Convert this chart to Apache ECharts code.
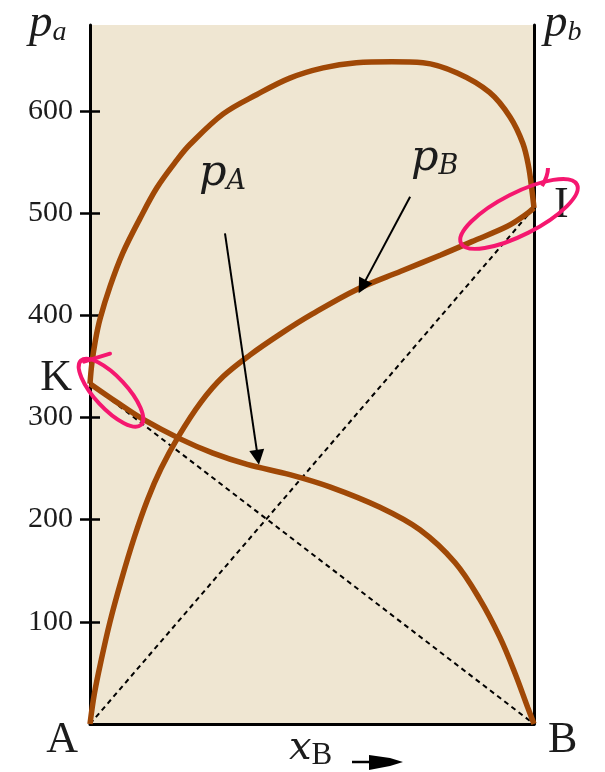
<!DOCTYPE html>
<html>
<head>
<meta charset="utf-8">
<script src="https://cdn.jsdelivr.net/npm/echarts@6/dist/echarts.min.js"></script>
<style>
  html, body { margin: 0; padding: 0; background: #fff; }
  #chart { width: 605px; height: 772px; }
</style>
</head>
<body>
<div id="chart"></div>
<script>
// Vapour pressures of a binary mixture A–B against mole fraction x_B
const yTicks = [100, 200, 300, 400, 500, 600];
const pureA = 333;   // K : vapour pressure of pure A
const pureB = 505;   // I : vapour pressure of pure B

const xTotal = [0, 0.004, 0.012, 0.023, 0.045, 0.074, 0.113, 0.151, 0.196, 0.225, 0.30, 0.376, 0.45, 0.525, 0.60, 0.68, 0.75, 0.827, 0.90, 0.946, 0.975, 0.988, 0.996, 1.0];
const pTotal = [333, 352, 375, 397, 428, 461, 495, 525, 552, 567, 597, 616, 632, 642, 647, 648, 647, 637, 618, 594, 568, 545, 520, 505];

const xPB = [0, 0.01, 0.025, 0.045, 0.07, 0.10, 0.13, 0.16, 0.20, 0.25, 0.30, 0.36, 0.43, 0.50, 0.60, 0.70, 0.79, 0.86, 0.94, 0.98, 1];
const pB = [0, 30, 62, 100, 140, 183, 220, 250, 282, 315, 340, 361, 382, 401, 425, 443, 459, 472, 487, 498, 505];

const xPA = [0, 0.06, 0.12, 0.203, 0.277, 0.354, 0.45, 0.54, 0.653, 0.743, 0.822, 0.878, 0.923, 0.957, 0.986, 1];
const pA = [333, 315, 298, 279, 265, 254, 244, 232, 212, 190, 158, 122, 85, 50, 16, 0];

// label arrows: [from, to] in (x_B, p)
const arrowPA = [[0.304, 480], [0.378, 261]];
const arrowPB = [[0.721, 516], [0.613, 428]];

const brown = '#A04806';
const pink = '#F5176F';
const serif = 'Liberation Serif';
const mathFont = 'DejaVu Serif';

const pairs = (xs, ys) => xs.map((x, i) => [x, ys[i]]);

const chart = echarts.init(document.getElementById('chart'));

const curve = (xs, ys) => ({
  type: 'line', data: pairs(xs, ys), smooth: 0.35,
  showSymbol: false, lineStyle: { color: brown, width: 5.5 }, z: 3, silent: true
});
const dashed = (pts) => ({
  type: 'line', data: pts, showSymbol: false, silent: true,
  lineStyle: { color: '#000', width: 2, type: [5, 4] }, z: 2
});
const arrow = (pts) => ({
  type: 'lines', coordinateSystem: 'cartesian2d', silent: true, z: 5,
  symbol: ['none', 'triangle'], symbolSize: [11, 15],
  lineStyle: { color: '#000', width: 2, opacity: 1, curveness: 0 },
  data: [{ coords: pts }]
});

chart.setOption({
  animation: false,
  grid: { left: 90, right: 71, top: 25, bottom: 48, show: true, backgroundColor: '#EFE6D2', borderWidth: 0 },
  xAxis: {
    type: 'value', min: 0, max: 1,
    axisLine: { show: true, onZero: false, lineStyle: { color: '#000', width: 3 } },
    axisTick: { show: false }, axisLabel: { show: false }, splitLine: { show: false }
  },
  yAxis: [
    {
      type: 'value', min: 0, max: 684, interval: 100, position: 'left',
      axisLine: { show: true, lineStyle: { color: '#000', width: 3 } },
      axisTick: { show: true, length: 10, customValues: yTicks, lineStyle: { color: '#000', width: 2.5 } },
      axisLabel: { show: true, customValues: yTicks, margin: 17, fontFamily: serif, fontSize: 30, color: '#1c1c1c' },
      splitLine: { show: false }
    },
    {
      type: 'value', min: 0, max: 684, interval: 100, position: 'left',
      axisLine: { show: false },
      axisTick: { show: true, inside: true, length: 10, customValues: yTicks, lineStyle: { color: '#000', width: 2.5 } },
      axisLabel: { show: false }, splitLine: { show: false }
    },
    {
      type: 'value', min: 0, max: 684, position: 'right',
      axisLine: { show: true, lineStyle: { color: '#000', width: 3 } },
      axisTick: { show: false }, axisLabel: { show: false }, splitLine: { show: false }
    }
  ],
  series: [
    dashed([[0, pureA], [1, 0]]),
    dashed([[0, 0], [1, pureB]]),
    curve(xTotal, pTotal),
    curve(xPB, pB),
    curve(xPA, pA),
    arrow(arrowPA),
    arrow(arrowPB)
  ]
});

// text and annotation layer, anchored to the axes
const px = (x, y) => chart.convertToPixel({ gridIndex: 0 }, [x, y]);
const K = px(0, pureA), I = px(1, pureB), A = px(0, 0), B = px(1, 0);
const ink = '#1c1c1c';

const txt = (x, y, text, font, size, extra) => Object.assign({
  type: 'text', x, y, silent: true, z: 10,
  style: Object.assign({ text, fontFamily: font, fontSize: size, fill: ink }, extra || {})
});
const sym = (font, subFont, size, subSize, subItalic, drop) => ({
  p: { fontFamily: font, fontStyle: 'italic', fontSize: size, fill: ink },
  s: { fontFamily: subFont, fontStyle: subItalic ? 'italic' : 'normal', fontSize: subSize, fill: ink, padding: [drop, 0, 0, 0] }
});

chart.setOption({
  graphic: [
    // axis-end symbols
    txt(29, 0, '{p|p}{s|a}', serif, 46, { rich: sym(serif, serif, 47, 28, true, 18) }),
    txt(544, 0, '{p|p}{s|b}', serif, 46, { rich: sym(serif, serif, 47, 28, true, 18) }),
    // pure component points
    txt(K[0] - 18, K[1] - 5, 'K', serif, 44, { align: 'right', verticalAlign: 'middle' }),
    txt(I[0] + 20, I[1] - 2, 'I', serif, 44, { align: 'left', verticalAlign: 'middle' }),
    txt(A[0] - 12, A[1] + 16, 'A', serif, 44, { align: 'right', verticalAlign: 'middle' }),
    txt(B[0] + 14, B[1] + 16, 'B', serif, 44, { align: 'left', verticalAlign: 'middle' }),
    // curve names
    txt(199, 152, '{p|p}{s|A}', mathFont, 42, { rich: sym(mathFont, mathFont, 43, 27, true, 16) }),
    txt(411, 137, '{p|p}{s|B}', mathFont, 42, { rich: sym(mathFont, mathFont, 43, 27, true, 16) }),
    // abscissa title with arrow
    txt(289, 726, '{p|x}{s|B}', mathFont, 40, { rich: sym(mathFont, serif, 40, 31, false, 14) }),
    { type: 'line', silent: true, z: 10, shape: { x1: 352, y1: 762, x2: 372, y2: 762 }, style: { stroke: '#000', lineWidth: 2.5 } },
    { type: 'polygon', silent: true, z: 10, shape: { points: [[369, 755], [390, 758], [403, 762], [390, 766], [369, 770]] }, style: { fill: '#000' } },
    // highlight loops round K and I
    { type: 'ellipse', silent: true, z: 12, x: I[0] - 15, y: I[1] + 6, rotation: 0.47,
      shape: { cx: 0, cy: 0, rx: 65, ry: 21 }, style: { fill: 'none', stroke: pink, lineWidth: 4 } },
    { type: 'bezierCurve', silent: true, z: 12,
      shape: { x1: I[0] + 8, y1: I[1] - 22, cpx1: I[0] + 14, cpy1: I[1] - 32, x2: I[0] + 14, y2: I[1] - 40 },
      style: { stroke: pink, lineWidth: 4, fill: 'none' } },
    { type: 'ellipse', silent: true, z: 12, x: K[0] + 21, y: K[1] + 9, rotation: -0.82,
      shape: { cx: 0, cy: 0, rx: 44, ry: 16 }, style: { fill: 'none', stroke: pink, lineWidth: 4 } },
    { type: 'line', silent: true, z: 12, shape: { x1: K[0] - 6, y1: K[1] - 22, x2: K[0] + 20, y2: K[1] - 30 },
      style: { stroke: pink, lineWidth: 4, lineCap: 'round' } }
  ]
});
</script>
</body>
</html>
